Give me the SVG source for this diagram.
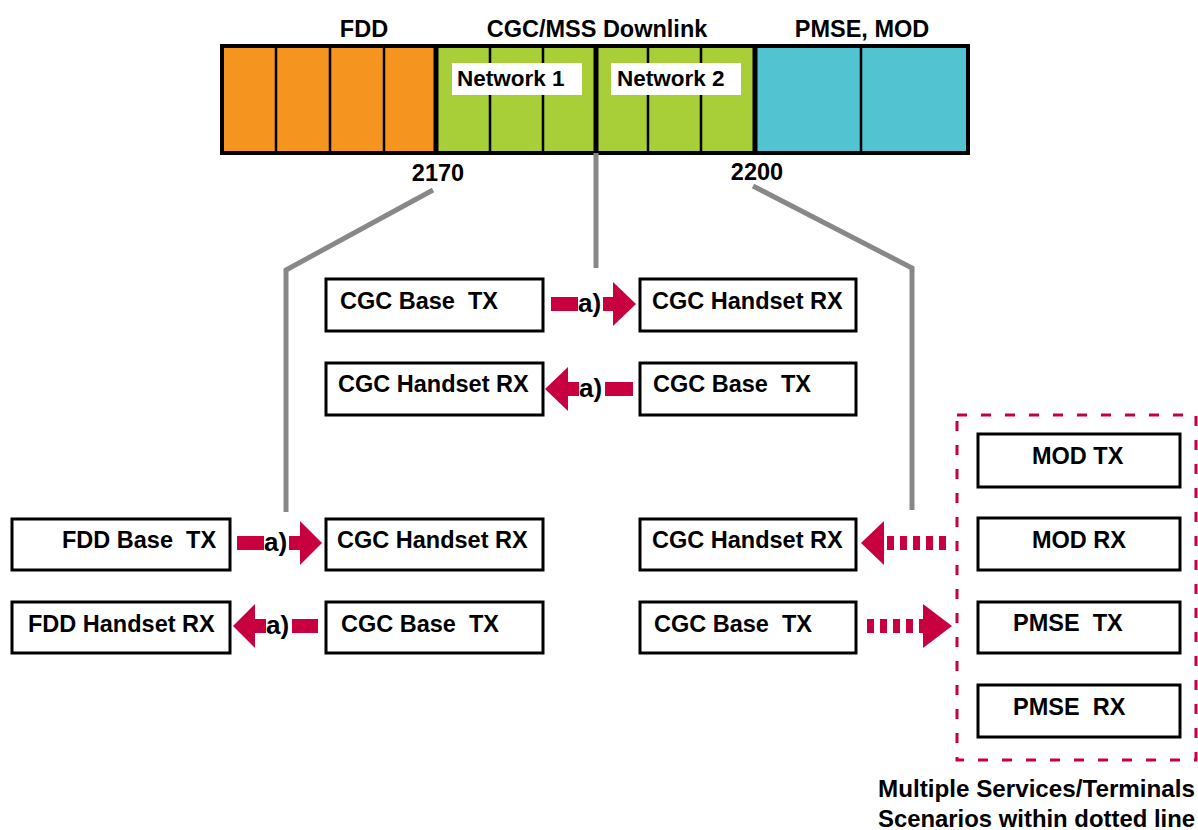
<svg xmlns="http://www.w3.org/2000/svg" width="1198" height="830" viewBox="0 0 1198 830">
<style>
text{font-family:"Liberation Sans",Arial,sans-serif;font-weight:bold;fill:#000;white-space:pre}
.hd{font-size:23.5px}
.nw{font-size:22.5px}
.bx{fill:#fff;stroke:#000;stroke-width:3}
.bt{font-size:23.5px}
.cap{font-size:24px}
.gl{fill:none;stroke:#888;stroke-width:5;stroke-linejoin:miter}
.ar{fill:#C8003F}
.lbl{font-size:26px}
.dsh{stroke:#C8003F;stroke-width:14;stroke-dasharray:7 6}
.thin{stroke:#000;stroke-width:2.5}
.thick{stroke:#000;stroke-width:5}
</style>
<rect width="1198" height="830" fill="#fff"/>
<g id="band">
<rect x="222" y="46" width="214" height="107" fill="#F5951F"/>
<rect x="436" y="46" width="319" height="107" fill="#A8CE38"/>
<rect x="755" y="46" width="213" height="107" fill="#52C3D1"/>
<line class="thin" x1="276" y1="46" x2="276" y2="153"/>
<line class="thin" x1="330" y1="46" x2="330" y2="153"/>
<line class="thin" x1="384" y1="46" x2="384" y2="153"/>
<line class="thin" x1="490" y1="46" x2="490" y2="153"/>
<line class="thin" x1="543" y1="46" x2="543" y2="153"/>
<line class="thin" x1="648" y1="46" x2="648" y2="153"/>
<line class="thin" x1="701" y1="46" x2="701" y2="153"/>
<line class="thin" x1="861" y1="46" x2="861" y2="153"/>
<line class="thick" x1="436" y1="46" x2="436" y2="153"/>
<line class="thick" x1="596" y1="46" x2="596" y2="153"/>
<line class="thick" x1="755" y1="46" x2="755" y2="153"/>
<rect x="222" y="46" width="746" height="107" fill="none" stroke="#000" stroke-width="4"/>
<rect x="452" y="63" width="130" height="32" fill="#fff"/>
<rect x="611" y="63" width="130" height="32" fill="#fff"/>
<text class="nw" x="457" y="86">Network 1</text>
<text class="nw" x="617" y="86">Network 2</text>
<text class="hd" x="364" y="37" text-anchor="middle">FDD</text>
<text class="hd" x="597" y="37" text-anchor="middle">CGC/MSS Downlink</text>
<text class="hd" x="862" y="37" text-anchor="middle">PMSE, MOD</text>
<text class="hd" x="438" y="181" text-anchor="middle">2170</text>
<text class="hd" x="757" y="180" text-anchor="middle">2200</text>
</g>
<g id="connectors">
<polyline class="gl" points="433,190 286,270 286,512"/>
<polyline class="gl" points="596,153 596,268"/>
<polyline class="gl" points="753,186 912,268 912,510"/>
<rect class="ar" x="551" y="297" width="64" height="14"/>
<polygon class="ar" points="613,282 636,304 613,326"/>
<rect x="578" y="293" width="25" height="22" fill="#fff"/>
<text class="lbl" x="578" y="312">a)</text>
<polygon class="ar" points="568,367 545,389 568,411"/>
<rect class="ar" x="566" y="382" width="67" height="14"/>
<rect x="579" y="378" width="26" height="22" fill="#fff"/>
<text class="lbl" x="579" y="397">a)</text>
<rect class="ar" x="237" y="536" width="65" height="14"/>
<polygon class="ar" points="300,521 322,543 300,565"/>
<rect x="264" y="532" width="25" height="22" fill="#fff"/>
<text class="lbl" x="264" y="551">a)</text>
<polygon class="ar" points="255,604 233,626 255,648"/>
<rect class="ar" x="253" y="619" width="65" height="14"/>
<rect x="266" y="615" width="26" height="22" fill="#fff"/>
<text class="lbl" x="266" y="634">a)</text>
<line class="dsh" x1="946" y1="543" x2="886" y2="543"/>
<polygon class="ar" points="884,521 861,543 884,565"/>
<line class="dsh" x1="867" y1="626" x2="923" y2="626"/>
<polygon class="ar" points="923,604 952,626 923,648"/>
<rect x="957" y="415" width="239" height="345" fill="none" stroke="#C8003F" stroke-width="3" stroke-dasharray="10 14"/>
</g>
<g id="n1"><rect class="bx" x="326" y="279" width="217" height="52"/><text class="bt" x="340" y="309">CGC Base  TX</text></g>
<g id="n2"><rect class="bx" x="640" y="279" width="216" height="52"/><text class="bt" x="652" y="309">CGC Handset RX</text></g>
<g id="n3"><rect class="bx" x="326" y="363" width="217" height="52"/><text class="bt" x="338" y="392">CGC Handset RX</text></g>
<g id="n4"><rect class="bx" x="640" y="363" width="216" height="52"/><text class="bt" x="653" y="392">CGC Base  TX</text></g>
<g id="n5"><rect class="bx" x="12" y="519" width="218" height="51"/><text class="bt" x="62" y="548">FDD Base  TX</text></g>
<g id="n6"><rect class="bx" x="326" y="519" width="217" height="51"/><text class="bt" x="337" y="548">CGC Handset RX</text></g>
<g id="n7"><rect class="bx" x="12" y="602" width="218" height="51"/><text class="bt" x="28" y="632">FDD Handset RX</text></g>
<g id="n8"><rect class="bx" x="326" y="602" width="217" height="51"/><text class="bt" x="341" y="632">CGC Base  TX</text></g>
<g id="n9"><rect class="bx" x="640" y="519" width="216" height="51"/><text class="bt" x="652" y="548">CGC Handset RX</text></g>
<g id="n10"><rect class="bx" x="640" y="602" width="216" height="51"/><text class="bt" x="654" y="632">CGC Base  TX</text></g>
<g id="n11"><rect class="bx" x="978" y="434" width="202" height="53"/><text class="bt" x="1032" y="464">MOD TX</text></g>
<g id="n12"><rect class="bx" x="978" y="518" width="202" height="52"/><text class="bt" x="1032" y="548">MOD RX</text></g>
<g id="n13"><rect class="bx" x="978" y="602" width="202" height="51"/><text class="bt" x="1013" y="631">PMSE  TX</text></g>
<g id="n14"><rect class="bx" x="978" y="685" width="202" height="52"/><text class="bt" x="1013" y="715">PMSE  RX</text></g>
<g id="caption">
<text class="cap" x="878" y="797" textLength="317" lengthAdjust="spacingAndGlyphs">Multiple Services/Terminals</text>
<text class="cap" x="878" y="827" textLength="317" lengthAdjust="spacingAndGlyphs">Scenarios within dotted line</text>
</g>
</svg>
